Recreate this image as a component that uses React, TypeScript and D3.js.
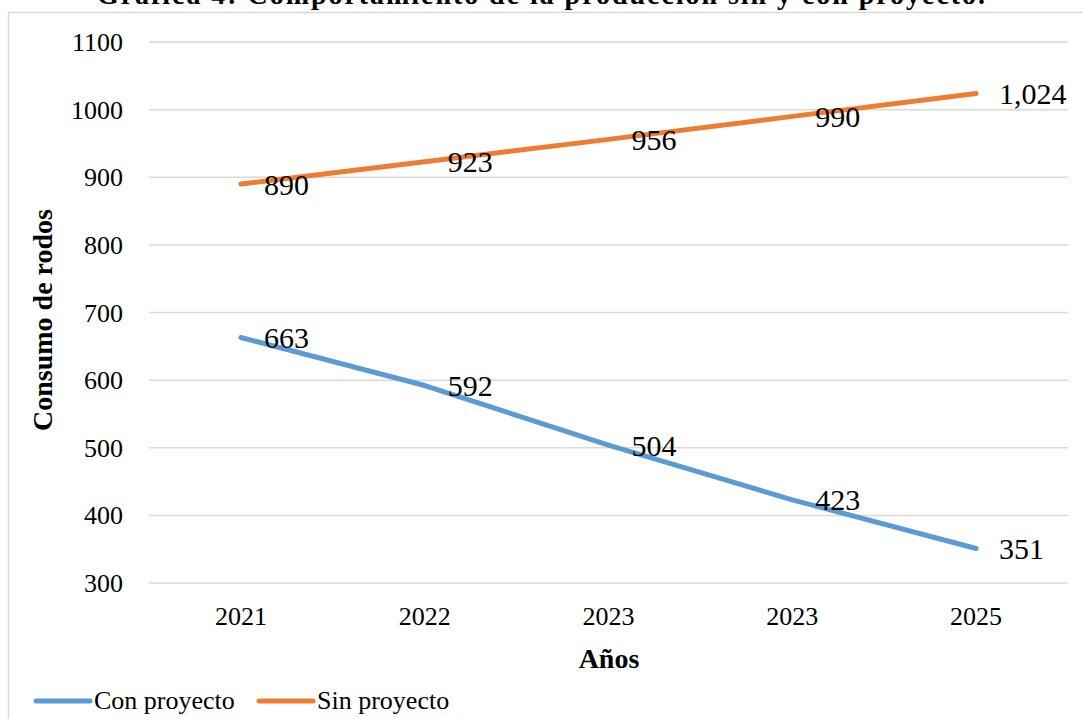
import React from "react";
import * as d3 from "d3";

// Years on the category axis (the fourth label is printed as 2023 in the source table)
const yearLabels = ["2021", "2022", "2023", "2023", "2025"];
const conProyecto = [663, 592, 504, 423, 351];
const sinProyecto = [890, 923, 956, 990, 1024];
const yTicks = [300, 400, 500, 600, 700, 800, 900, 1000, 1100];
const seriesNames = ["Con proyecto", "Sin proyecto"];
const seriesColors = ["#5B9BD5", "#ED7D31"];

const W = 1083;
const H = 719;
const FONT = "'Liberation Serif', 'Times New Roman', serif";

export default function App() {
  const x = d3
    .scaleBand<number>()
    .domain(yearLabels.map((_, i) => i))
    .range([149, 1068])
    .paddingInner(0)
    .paddingOuter(0);
  const cx = (i: number) => (x(i) ?? 0) + x.bandwidth() / 2;
  const y = d3.scaleLinear().domain([300, 1100]).range([583, 42]);

  const line = d3
    .line<number>()
    .x((_, i) => cx(i))
    .y((d) => y(d));

  const series = [conProyecto, sinProyecto];

  return (
    <svg
      width={W}
      height={H}
      style={{ position: "absolute", left: 0, top: 0, background: "#fff" }}
      fontFamily={FONT}
    >
      {/* chart frame */}
      <rect x={8.5} y={12.5} width={W + 20} height={H + 20} fill="#fff" stroke="#d9d9d9" strokeWidth={1.5} />

      {/* title, running off the top edge */}
      <text
        x={541}
        y={4}
        textAnchor="middle"
        fontSize={28}
        fontWeight="bold"
        fill="#000"
        textLength={888}
        lengthAdjust="spacing"
      >
        Gráfica 4: Comportamiento de la producción sin y con proyecto.
      </text>

      {/* gridlines and y tick labels */}
      {yTicks.map((t) => (
        <g key={t}>
          <line x1={149} x2={1068} y1={y(t)} y2={y(t)} stroke="#d9d9d9" strokeWidth={1.5} />
          <text x={123} y={y(t)} dy="0.35em" textAnchor="end" fontSize={26} fill="#000">
            {t}
          </text>
        </g>
      ))}

      {/* x tick labels */}
      {yearLabels.map((lab, i) => (
        <text key={i} x={cx(i)} y={625} textAnchor="middle" fontSize={26} fill="#000">
          {lab}
        </text>
      ))}

      {/* axis titles */}
      <text x={609} y={668} textAnchor="middle" fontSize={28} fontWeight="bold" fill="#000">
        Años
      </text>
      <text
        transform={`translate(52,320) rotate(-90)`}
        textAnchor="middle"
        fontSize={28}
        fontWeight="bold"
        fill="#000"
      >
        Consumo de rodos
      </text>

      {/* series lines */}
      {series.map((s, k) => (
        <path
          key={k}
          d={line(s) ?? ""}
          fill="none"
          stroke={seriesColors[k]}
          strokeWidth={5}
          strokeLinecap="round"
          strokeLinejoin="round"
        />
      ))}

      {/* data labels */}
      {series.map((s, k) =>
        s.map((v, i) => (
          <text
            key={`${k}-${i}`}
            x={cx(i) + 23}
            y={y(v)}
            dy="0.35em"
            fontSize={30}
            fill="#000"
          >
            {d3.format(",")(v)}
          </text>
        ))
      )}

      {/* legend */}
      {seriesNames.map((name, k) => {
        const lx = k === 0 ? 36 : 259;
        return (
          <g key={name}>
            <line x1={lx} x2={lx + 54} y1={701} y2={701} stroke={seriesColors[k]} strokeWidth={5} strokeLinecap="round" />
            <text x={lx + 58} y={709} fontSize={26} fill="#000">
              {name}
            </text>
          </g>
        );
      })}
    </svg>
  );
}
